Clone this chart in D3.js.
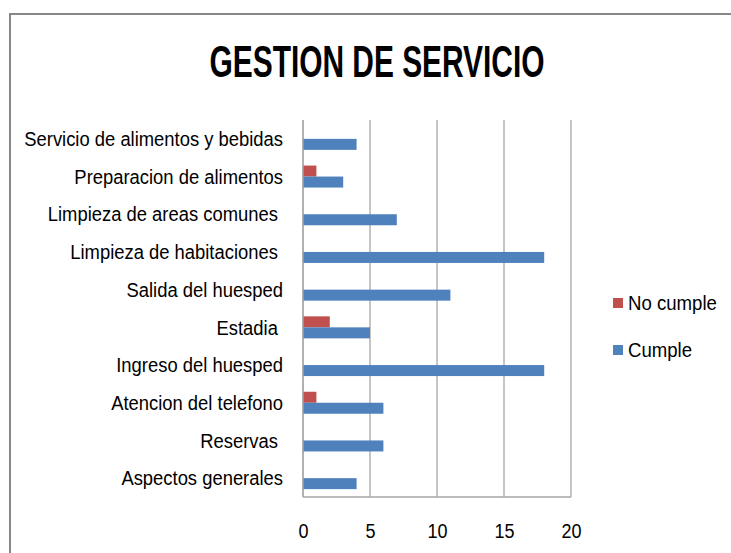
<!DOCTYPE html>
<html>
<head>
<meta charset="utf-8">
<script src="https://cdn.jsdelivr.net/npm/d3@7"></script>
<style>
  body { margin: 0; background: #fff; }
  text { font-family: "Liberation Sans", Arial, sans-serif; fill: #000; }
</style>
</head>
<body>
<div id="chart"></div>
<script>
// categories, bottom to top as in the picture
var categories = [
    'Aspectos generales',
    'Reservas ',
    'Atencion del telefono',
    'Ingreso del huesped',
    'Estadia ',
    'Salida del huesped',
    'Limpieza de habitaciones ',
    'Limpieza de areas comunes ',
    'Preparacion de alimentos',
    'Servicio de alimentos y bebidas'
];
var cumple = [4, 6, 6, 18, 5, 11, 18, 7, 3, 4];
var noCumple = [0, 0, 1, 0, 2, 0, 0, 0, 1, 0];
var seriesNames = ['No cumple', 'Cumple'];
var seriesColors = ['#C0504D', '#4F81BD'];
var xTicks = [0, 5, 10, 15, 20];

// squeeze a text horizontally, Calibri is narrower than what we have
function narrow(sel, k) {
    sel.each(function() {
        let w = this.getComputedTextLength();
        d3.select(this)
            .attr('textLength', w * k)
            .attr('lengthAdjust', 'spacingAndGlyphs');
    });
}

function drawChart() {
    let width = 731;
    let height = 553;
    let svg = d3.select('#chart').html('')
        .append('svg')
        .attr('width', width)
        .attr('height', height);

    // outer frame of the chart area (cut off at right and bottom)
    svg.append('path')
        .attr('d', 'M10,' + height + 'V14H' + width)
        .attr('fill', 'none')
        .attr('stroke', '#878787')
        .attr('stroke-width', 2);

    svg.append('text')
        .attr('x', 377)
        .attr('y', 77)
        .attr('text-anchor', 'middle')
        .attr('font-weight', 'bold')
        .attr('font-size', 44)
        .attr('textLength', 335)
        .attr('lengthAdjust', 'spacingAndGlyphs')
        .text('GESTION DE SERVICIO');

    let left = 303, right = 571, top = 120, bottom = 497;

    let xScale = d3.scaleLinear()
        .domain([0, 20])
        .range([left, right]);
    // reversed so first category sits at the bottom
    let yScale = d3.scaleBand()
        .domain(categories.slice().reverse())
        .range([top, bottom]);
    let barH = 11;

    // gridlines
    svg.append('g')
        .selectAll('line')
        .data(xTicks)
        .enter()
        .append('line')
        .attr('x1', d => xScale(d))
        .attr('x2', d => xScale(d))
        .attr('y1', top)
        .attr('y2', bottom)
        .attr('stroke', '#a6a6a6')
        .attr('stroke-width', 1.3);

    svg.append('line')
        .attr('x1', left).attr('x2', right)
        .attr('y1', bottom).attr('y2', bottom)
        .attr('stroke', '#a6a6a6')
        .attr('stroke-width', 1.3);

    let xAxis = d3.axisBottom(xScale)
        .tickValues(xTicks)
        .tickSize(0)
        .tickPadding(0);
    let gx = svg.append('g')
        .attr('class', 'xAxis')
        .attr('transform', 'translate(0,' + (bottom + 41) + ')')
        .call(xAxis);
    gx.select('.domain').remove();
    gx.selectAll('text')
        .attr('dy', 0)
        .attr('font-size', 20)
        .style('font-family', '"Liberation Sans", sans-serif')
        .call(narrow, 0.9);

    let yAxis = d3.axisLeft(yScale).tickSize(0).tickPadding(20);
    let gy = svg.append('g')
        .attr('class', 'yAxis')
        .attr('transform', 'translate(' + left + ',0)')
        .call(yAxis);
    gy.select('.domain').remove();
    gy.selectAll('text')
        .attr('font-size', 20)
        .attr('dy', '0.36em')
        .style('font-family', '"Liberation Sans", sans-serif')
        .style('white-space', 'pre')
        .call(narrow, 0.92);

    let rows = categories.map((c, i) => ({ cat: c, no: noCumple[i], si: cumple[i] }));

    svg.append('g').selectAll('rect')
        .data(rows.filter(d => d.no > 0))
        .enter()
        .append('rect')
        .attr('x', xScale(0))
        .attr('y', d => yScale(d.cat) + yScale.bandwidth() / 2 - barH)
        .attr('width', d => xScale(d.no) - xScale(0))
        .attr('height', barH)
        .attr('fill', seriesColors[0]);

    svg.append('g').selectAll('rect')
        .data(rows)
        .enter()
        .append('rect')
        .attr('x', xScale(0))
        .attr('y', d => yScale(d.cat) + yScale.bandwidth() / 2)
        .attr('width', d => xScale(d.si) - xScale(0))
        .attr('height', barH)
        .attr('fill', seriesColors[1]);

    // axis line at zero
    svg.append('line')
        .attr('x1', left).attr('x2', left)
        .attr('y1', top).attr('y2', bottom)
        .attr('stroke', '#a6a6a6')
        .attr('stroke-width', 1.3);

    // legend
    let legend = svg.append('g')
        .selectAll('g')
        .data(seriesNames)
        .enter()
        .append('g')
        .attr('transform', (d, i) => 'translate(613,' + (298 + i * 47) + ')');
    legend.append('rect')
        .attr('width', 10)
        .attr('height', 10)
        .attr('fill', (d, i) => seriesColors[i]);
    legend.append('text')
        .attr('x', 15)
        .attr('y', 5)
        .attr('dy', '0.36em')
        .attr('font-size', 20)
        .text(d => d)
        .call(narrow, 0.93);
}

drawChart();
</script>
</body>
</html>
